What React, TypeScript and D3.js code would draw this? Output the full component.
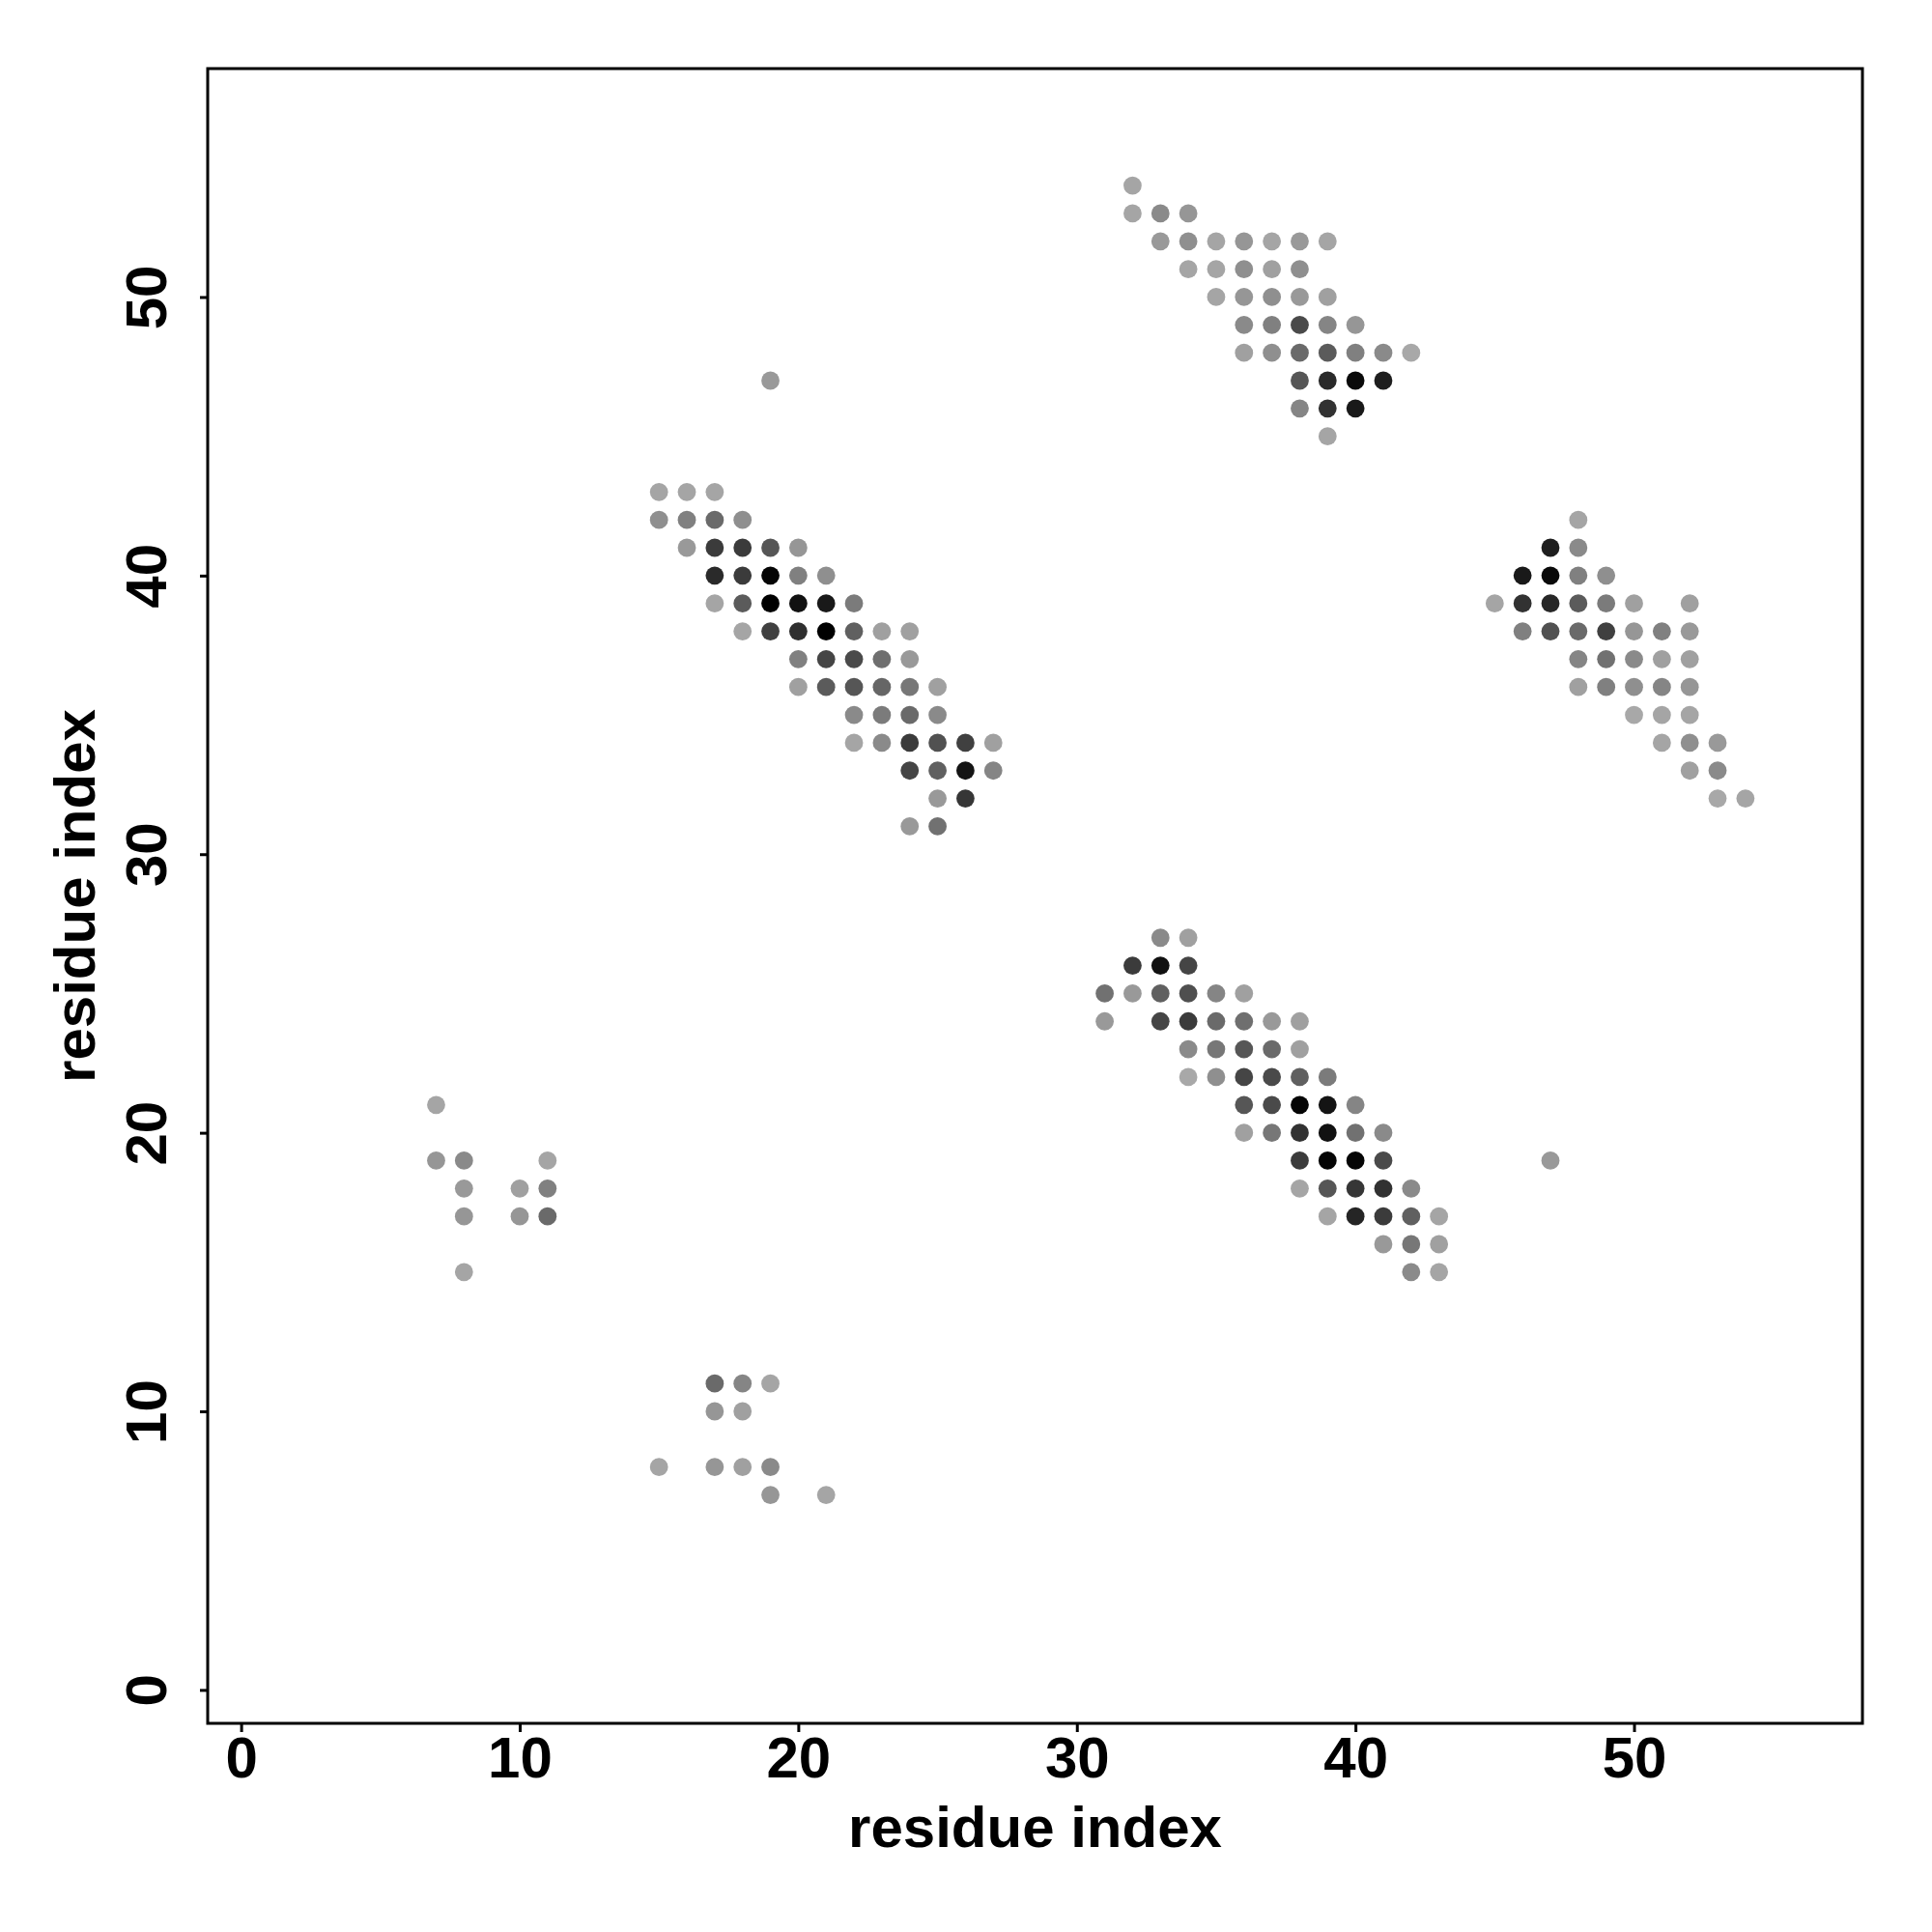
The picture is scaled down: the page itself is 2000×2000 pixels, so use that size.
import React, { useEffect, useRef } from 'react';
import * as d3 from 'd3';

// contact map: [residue i, residue j, contact strength 0..100]
type Contact = [number, number, number];

const helixTop: Contact[] = [
  [32, 54, 2],
  [32, 53, 2], [33, 53, 18], [34, 53, 11],
  [33, 52, 9], [34, 52, 15], [35, 52, 2], [36, 52, 11], [37, 52, 2], [38, 52, 9], [39, 52, 2],
  [34, 51, 2], [35, 51, 2], [36, 51, 15], [37, 51, 5], [38, 51, 15],
  [35, 50, 2], [36, 50, 11], [37, 50, 15], [38, 50, 9], [39, 50, 5],
  [36, 49, 18], [37, 49, 24], [38, 49, 56], [39, 49, 21], [40, 49, 11],
  [36, 48, 5], [37, 48, 15], [38, 48, 37], [39, 48, 46], [40, 48, 24], [41, 48, 18], [42, 48, 0],
  [38, 47, 49], [39, 47, 75], [40, 47, 94], [41, 47, 82],
  [38, 46, 21], [39, 46, 70], [40, 46, 85],
  [39, 45, 2],
];

const helixLeft: Contact[] = [
  [15, 43, 2], [16, 43, 2], [17, 43, 2],
  [15, 42, 15], [16, 42, 24], [17, 42, 37], [18, 42, 15],
  [16, 41, 9], [17, 41, 65], [18, 41, 65], [19, 41, 49], [20, 41, 11],
  [17, 40, 75], [18, 40, 65], [19, 40, 97], [20, 40, 24], [21, 40, 15],
  [17, 39, 2], [18, 39, 46], [19, 39, 100], [20, 39, 90], [21, 39, 85], [22, 39, 27],
  [18, 38, 2], [19, 38, 62], [20, 38, 72], [21, 38, 100], [22, 38, 43], [23, 38, 5], [24, 38, 5],
  [20, 37, 24], [21, 37, 59], [22, 37, 56], [23, 37, 34], [24, 37, 9],
  [20, 36, 5], [21, 36, 46], [22, 36, 49], [23, 36, 39], [24, 36, 29], [25, 36, 5],
  [22, 35, 18], [23, 35, 27], [24, 35, 37], [25, 35, 18],
  [22, 34, 2], [23, 34, 18], [24, 34, 65], [25, 34, 52], [26, 34, 62], [27, 34, 5],
  [24, 33, 59], [25, 33, 43], [26, 33, 88], [27, 33, 21],
  [25, 32, 9], [26, 32, 68],
  [24, 31, 9], [25, 31, 33],
];

const sheetRight: Contact[] = [
  [48, 42, 2],
  [47, 41, 82], [48, 41, 18],
  [46, 40, 85], [47, 40, 94], [48, 40, 24], [49, 40, 15],
  [45, 39, 2], [46, 39, 70], [47, 39, 77], [48, 39, 46], [49, 39, 27], [50, 39, 5], [52, 39, 5],
  [46, 38, 24], [47, 38, 52], [48, 38, 37], [49, 38, 62], [50, 38, 11], [51, 38, 24], [52, 38, 9],
  [48, 37, 21], [49, 37, 33], [50, 37, 18], [51, 37, 5], [52, 37, 5],
  [48, 36, 5], [49, 36, 24], [50, 36, 15], [51, 36, 21], [52, 36, 11],
  [50, 35, 0], [51, 35, 2], [52, 35, 2],
  [51, 34, 2], [52, 34, 15], [53, 34, 9],
  [52, 33, 5], [53, 33, 18],
  [53, 32, 0], [54, 32, 2],
];

const helixBottom: Contact[] = [
  [33, 27, 18], [34, 27, 5],
  [32, 26, 65], [33, 26, 90], [34, 26, 59],
  [31, 25, 33], [32, 25, 9], [33, 25, 43], [34, 25, 53], [35, 25, 21], [36, 25, 5],
  [31, 24, 9], [33, 24, 59], [34, 24, 65], [35, 24, 37], [36, 24, 34], [37, 24, 9], [38, 24, 5],
  [34, 23, 18], [35, 23, 29], [36, 23, 49], [37, 23, 37], [38, 23, 5],
  [34, 22, 0], [35, 22, 15], [36, 22, 59], [37, 22, 56], [38, 22, 43], [39, 22, 27],
  [36, 21, 49], [37, 21, 56], [38, 21, 97], [39, 21, 88], [40, 21, 21],
  [36, 20, 5], [37, 20, 29], [38, 20, 70], [39, 20, 90], [40, 20, 33], [41, 20, 18],
  [38, 19, 65], [39, 19, 97], [40, 19, 97], [41, 19, 56],
  [38, 18, 2], [39, 18, 49], [40, 18, 68], [41, 18, 71], [42, 18, 18],
  [39, 17, 2], [40, 17, 78], [41, 17, 65], [42, 17, 43], [43, 17, 2],
  [41, 16, 9], [42, 16, 29], [43, 16, 5],
  [42, 15, 18], [43, 15, 2],
];

const smallLeft: Contact[] = [
  [7, 21, 2],
  [7, 19, 11], [8, 19, 18], [11, 19, 2],
  [8, 18, 9], [10, 18, 5], [11, 18, 24],
  [8, 17, 11], [10, 17, 11], [11, 17, 37],
  [8, 15, 2],
];

const smallBottom: Contact[] = [
  [17, 11, 37], [18, 11, 21], [19, 11, 2],
  [17, 10, 11], [18, 10, 5],
  [15, 8, 2], [17, 8, 11], [18, 8, 5], [19, 8, 18],
  [19, 7, 11], [21, 7, 2],
];

const singles: Contact[] = [
  [19, 47, 9],
  [47, 19, 9],
];

const tickValues = [0, 10, 20, 30, 40, 50];
const axisTitle = 'residue index';

const App: React.FC = () => {
  const svgRef = useRef<SVGSVGElement | null>(null);

  useEffect(() => {
    if (!svgRef.current) return;
    const svg = d3.select(svgRef.current);
    svg.selectAll('*').remove();

    const left = 215, right = 1928, top = 71, bottom = 1784;
    const font = "'Liberation Sans', Arial, Helvetica, sans-serif";

    const x = d3.scaleLinear().domain([-1.2, 58.2]).range([left, right]);
    const y = d3.scaleLinear().domain([-1.2, 58.2]).range([bottom, top]);
    const color = d3.scaleLinear<string>().domain([0, 100]).range(['#a8a8a8', '#000000']);

    const all = [...helixTop, ...helixLeft, ...sheetRight, ...helixBottom, ...smallLeft, ...smallBottom, ...singles];

    svg.append('g')
      .selectAll('circle')
      .data(all)
      .join('circle')
      .attr('cx', d => x(d[0]))
      .attr('cy', d => y(d[1]))
      .attr('r', 9.4)
      .attr('fill', d => color(d[2]));

    // box
    svg.append('rect')
      .attr('x', left)
      .attr('y', top)
      .attr('width', right - left)
      .attr('height', bottom - top)
      .attr('fill', 'none')
      .attr('stroke', '#000')
      .attr('stroke-width', 3);

    // x axis
    const gx = svg.append('g')
      .attr('transform', `translate(0,${bottom})`)
      .call(d3.axisBottom(x).tickValues(tickValues).tickSize(9).tickFormat(d3.format('d')));
    gx.select('.domain').remove();
    gx.selectAll('line').attr('stroke-width', 3);
    gx.selectAll('text')
      .attr('dy', null)
      .attr('y', 56)
      .style('font', `bold 60px ${font}`)
      .attr('fill', '#000');

    // y axis
    const gy = svg.append('g')
      .attr('transform', `translate(${left},0)`)
      .call(d3.axisLeft(y).tickValues(tickValues).tickSize(8).tickFormat(d3.format('d')));
    gy.select('.domain').remove();
    gy.selectAll('line').attr('stroke-width', 3);
    gy.selectAll('text')
      .attr('x', null)
      .attr('dy', null)
      .attr('transform', 'translate(-43,0) rotate(-90)')
      .attr('text-anchor', 'middle')
      .style('font', `bold 60px ${font}`)
      .attr('fill', '#000');

    // titles
    svg.append('text')
      .attr('x', (left + right) / 2)
      .attr('y', 1912)
      .attr('text-anchor', 'middle')
      .style('font', `bold 60px ${font}`)
      .text(axisTitle);

    svg.append('text')
      .attr('transform', `translate(98,${(top + bottom) / 2}) rotate(-90)`)
      .attr('text-anchor', 'middle')
      .style('font', `bold 60px ${font}`)
      .text(axisTitle);
  }, []);

  return (
    <svg
      ref={svgRef}
      width={2000}
      height={2000}
      style={{ position: 'absolute', left: 0, top: 0, background: '#fff' }}
    />
  );
};

export default App;
